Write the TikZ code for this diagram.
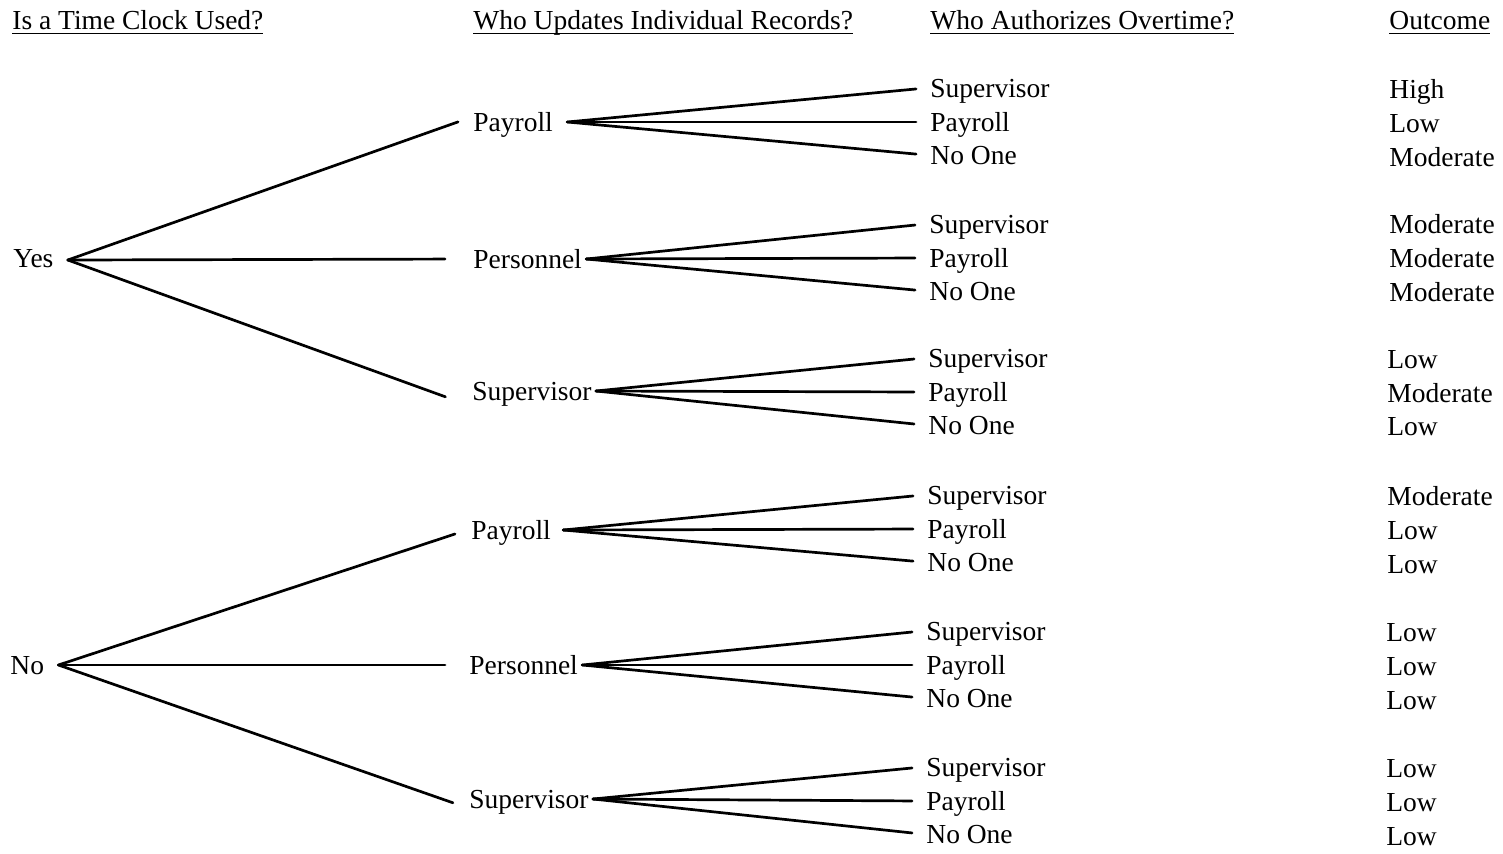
\documentclass[tikz,border=0pt]{standalone}
\usepackage{fontspec}
\setmainfont{Liberation Serif}
% underlined column heading with a rule set just under the baseline
\newsavebox\hdbox
\newcommand\colhead[1]{\sbox\hdbox{#1}\rlap{\rule[-2.3pt]{\wd\hdbox}{0.9pt}}\usebox\hdbox}
\begin{document}
\begin{tikzpicture}[x=0.5pt,y=-0.5pt,
  lbl/.style={anchor=west, inner xsep=2pt, inner ysep=0pt,
              text height=1.22em, text depth=0.25em,
              font=\fontsize{13.75}{16}\selectfont},
  branch/.style={line width=1.35pt, line cap=round}]
\useasboundingbox (0,0) rectangle (1503,853);

% column headings
\node[lbl] (h1) at (8,20)    {\colhead{Is a Time Clock Used?}};
\node[lbl] (h2) at (469,20)  {\colhead{Who Updates Individual Records?}};
\node[lbl] (h3) at (926,20)  {\colhead{Who Authorizes Overtime?}};
\node[lbl] (h4) at (1385,20) {\colhead{Outcome}};

% first level
\node[lbl] (yes) at (9,258) {Yes};
\node[lbl] (no)  at (6,665) {No};

% second level
\node[lbl] (p1)  at (469,122) {Payroll};
\node[lbl] (pe1) at (469,259) {Personnel};
\node[lbl] (s1)  at (468,391) {Supervisor};
\node[lbl] (p2)  at (467,530) {Payroll};
\node[lbl] (pe2) at (465,665) {Personnel};
\node[lbl] (s2)  at (465,799) {Supervisor};

% third level
\foreach \g/\x/\y in {p1/930/88, pe1/929/224, s1/928/358, p2/927/495, pe2/926/631, s2/926/767}{
  \node[lbl] (\g a) at (\x-4,\y)    {Supervisor};
  \node[lbl] (\g b) at (\x-4,\y+34) {Payroll};
  \node[lbl] (\g c) at (\x-4,\y+67) {No One};
}

% outcomes
\foreach \n/\x/\y/\t in {o1/1389/89/High, o2/1389/123/Low, o3/1389/157/Moderate,
    o4/1389/224/Moderate, o5/1389/258/Moderate, o6/1389/292/Moderate,
    o7/1387/359/Low, o8/1387/393/Moderate, o9/1387/426/Low,
    o10/1387/496/Moderate, o11/1387/530/Low, o12/1387/564/Low,
    o13/1386/632/Low, o14/1386/666/Low, o15/1386/700/Low,
    o16/1386/768/Low, o17/1386/802/Low, o18/1386/836/Low}{
  \node[lbl] (\n) at (\x-4,\y) {\t};
}

% branches from the first level
\draw[branch, shorten >=5.8pt] ([xshift=5pt,yshift=-1pt]yes.east) -- ([yshift=2pt]p1.west);
\draw[branch, shorten >=12pt]  ([xshift=5pt,yshift=-1pt]yes.east) -- (pe1.west);
\draw[branch, shorten >=12pt]  ([xshift=5pt,yshift=-1pt]yes.east) -- ([yshift=-7pt]s1.west);
\draw[branch, shorten >=6.3pt] ([xshift=5pt]no.east) -- (p2.west);
\draw[branch, shorten >=10pt]  ([xshift=5pt]no.east) -- (pe2.west);
\draw[branch, shorten >=6.4pt] ([xshift=5pt]no.east) -- ([yshift=-4pt]s2.west);

% branches from the second level
\foreach \g/\s in {p1/5pt, pe1/0pt, s1/0pt, p2/4pt, pe2/0pt, s2/0pt}{
  \foreach \k in {a,b,c}{
    \draw[branch, shorten >=5pt] ([xshift=\s]\g.east) -- (\g\k.west);
  }
}
\end{tikzpicture}
\end{document}
